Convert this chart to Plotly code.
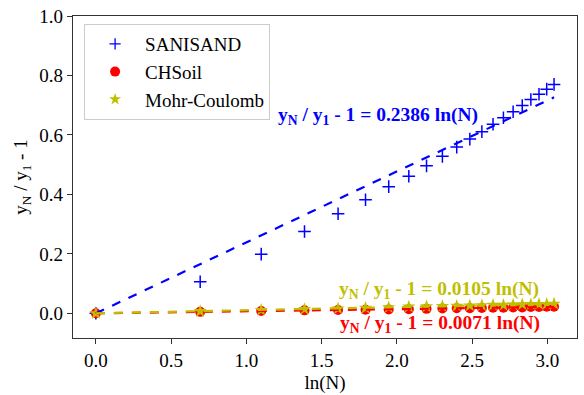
import numpy as np
import plotly.graph_objects as go

# Data
N = [1, 2, 3, 4, 5, 6, 7, 8, 9, 10, 11, 12, 13, 14, 15, 16, 17, 18, 19, 20, 21]
sanisand = [0.0, 0.106, 0.199, 0.275, 0.335, 0.382, 0.426, 0.461, 0.496, 0.528, 0.559,
            0.586, 0.611, 0.636, 0.658, 0.678, 0.699, 0.719, 0.737, 0.754, 0.770]
chsoil = [0.0, 0.005, 0.008, 0.010, 0.011, 0.012, 0.013, 0.014, 0.015, 0.016, 0.017,
          0.017, 0.018, 0.019, 0.019, 0.020, 0.020, 0.021, 0.021, 0.022, 0.022]
mohr = [0.0, 0.007, 0.011, 0.014, 0.016, 0.018, 0.020, 0.022, 0.023, 0.024, 0.025,
        0.026, 0.027, 0.028, 0.028, 0.029, 0.030, 0.030, 0.031, 0.031, 0.032]
slopes = {"SANISAND": 0.2386, "CHSoil": 0.0071, "Mohr-Coulomb": 0.0105}

lnN = np.log(np.array(N, dtype=float))
x_fit = np.array([0.0, lnN.max()])

BLUE = "#0000ff"
RED = "#ff0000"
YEL = "#bfbf00"
SERIF = "Liberation Serif"

series = [
    ("SANISAND", sanisand, dict(symbol="cross-thin", size=9, color=BLUE, line=dict(color=BLUE, width=1.5)),
     dict(symbol="cross-thin", size=8, color=BLUE, line=dict(color=BLUE, width=1.3))),
    ("CHSoil", chsoil, dict(symbol="circle", size=10, color=RED, line=dict(width=0)),
     dict(symbol="circle", size=10, color=RED, line=dict(width=0))),
    ("Mohr-Coulomb", mohr, dict(symbol="star", size=10, color=YEL, line=dict(width=0)),
     dict(symbol="star", size=9, color=YEL, line=dict(width=0))),
]

fig = go.Figure()

for name, ys, mk, lmk in series:
    fig.add_trace(go.Scatter(x=lnN, y=ys, mode="markers", name=name, showlegend=False,
                             marker=mk))

for name, col in [("SANISAND", BLUE), ("CHSoil", RED), ("Mohr-Coulomb", YEL)]:
    fig.add_trace(go.Scatter(x=x_fit, y=slopes[name] * x_fit, mode="lines",
                             showlegend=False, hoverinfo="skip",
                             line=dict(color=col, width=2.2, dash="dash")))

for name, ys, mk, lmk in series:
    fig.add_trace(go.Scatter(x=[None], y=[None], mode="markers", name=name,
                             marker=lmk, showlegend=True))

def label(s):
    return ("y<sub>N</sub> / y<sub>1</sub> - 1 = %.4f ln(N)" % s)

ann = [
    ("SANISAND", BLUE, 1.20, 0.662),
    ("Mohr-Coulomb", YEL, 1.60, 0.078),
    ("CHSoil", RED, 1.607, -0.037),
]
for name, col, ax, ay in ann:
    fig.add_annotation(x=ax, y=ay, xref="x", yref="y", text="<b>" + label(slopes[name]) + "</b>",
                       showarrow=False, xanchor="left", yanchor="middle",
                       font=dict(family=SERIF, size=19.5, color=col))

fig.update_layout(
    width=584, height=395,
    margin=dict(l=73, r=6, t=15, b=53),
    paper_bgcolor="white", plot_bgcolor="white",
    font=dict(family=SERIF, size=19, color="black"),
    showlegend=True,
    legend=dict(x=0.022, y=0.975, xanchor="left", yanchor="top",
                bgcolor="rgba(255,255,255,0.8)", bordercolor="#cccccc", borderwidth=1,
                font=dict(family=SERIF, size=19), itemwidth=50,
                tracegroupgap=0),
)
fig.update_xaxes(range=[-0.152, 3.197], tickvals=[0, 0.5, 1.0, 1.5, 2.0, 2.5, 3.0],
                 ticktext=["0.0", "0.5", "1.0", "1.5", "2.0", "2.5", "3.0"],
                 tickfont=dict(family=SERIF, size=19),
                 showgrid=False, zeroline=False, showline=True, linecolor="#333333",
                 linewidth=1.2, mirror=True, ticks="outside", ticklen=5, tickcolor="#333333",
                 title=dict(text="ln(N)", font=dict(family=SERIF, size=19), standoff=5))
fig.update_yaxes(range=[-0.083, 1.0], tickvals=[0, 0.2, 0.4, 0.6, 0.8, 1.0],
                 ticktext=["0.0", "0.2", "0.4", "0.6", "0.8", "1.0"],
                 tickfont=dict(family=SERIF, size=19),
                 showgrid=False, zeroline=False, showline=True, linecolor="#333333",
                 linewidth=1.2, mirror=True, ticks="outside", ticklen=5, tickcolor="#333333",
                 title=dict(text="y<sub>N</sub> / y<sub>1</sub> - 1",
                            font=dict(family=SERIF, size=19), standoff=6))

fig.write_html("out.html")
